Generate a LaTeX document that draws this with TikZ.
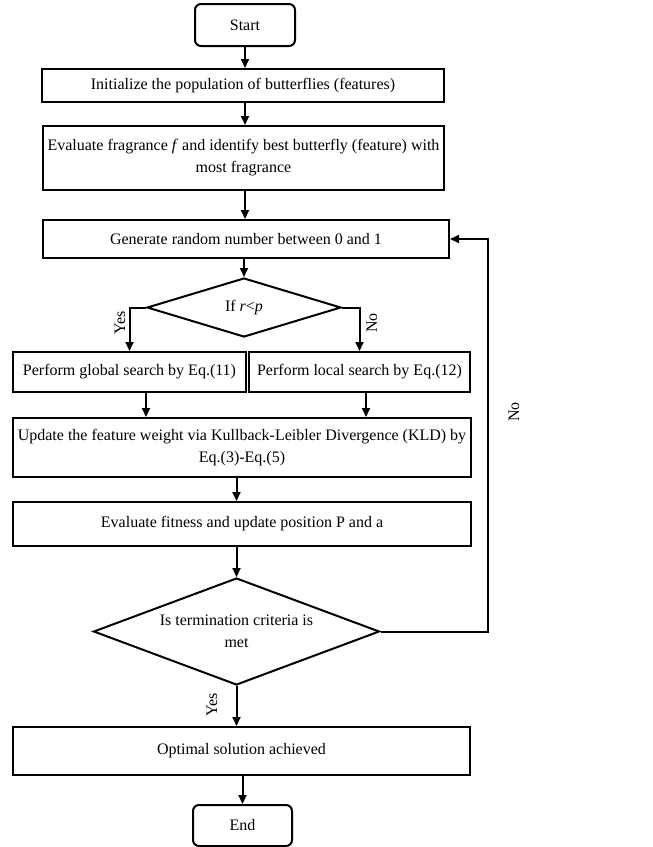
\documentclass[tikz,border=0pt]{standalone}
\usepackage{fontspec}
\setmainfont{Liberation Serif}
\usetikzlibrary{shapes.geometric,arrows.meta}
\begin{document}
\begin{tikzpicture}[x=1pt,y=-1pt,
  every node/.style={font=\fontsize{16}{22}\selectfont},
  procbox/.style={draw,line width=2pt,rectangle,inner sep=0pt,align=center},
  termbox/.style={draw,line width=2pt,rectangle,rounded corners=6pt,inner sep=0pt},
  decbox/.style={draw,line width=2pt,diamond,inner sep=0pt,align=center},
  flow/.style={line width=2pt,-{Triangle[width=8pt,length=9pt]}},
  lbl/.style={rotate=90,inner sep=0pt}]
\useasboundingbox (0,0) rectangle (653,847);

\node[termbox,minimum width=100pt,minimum height=42pt] (start) at (245,25) {Start};
\node[procbox,minimum width=402pt,minimum height=33pt] (init) at (243,85.5) {Initialize the population of butterflies (features)};
\node[procbox,minimum width=401pt,minimum height=64pt] (eval) at (243.5,158) {Evaluate fragrance \textit{f} and identify best butterfly (feature) with\\most fragrance};
\node[procbox,minimum width=406pt,minimum height=38pt] (gen) at (246,239) {Generate random number between 0 and 1};
\node[decbox,minimum width=194pt,minimum height=59pt,aspect=3.3] (dec1) at (244,307.5) {If \textit{r}<\textit{p}};
\node[procbox,minimum width=233pt,minimum height=40pt] (glob) at (129.5,372) {Perform global search by Eq.(11)};
\node[procbox,minimum width=221pt,minimum height=40pt] (loc) at (359.5,372) {Perform local search by Eq.(12)};
\node[procbox,minimum width=458pt,minimum height=59pt] (upd) at (242,447.5) {Update the feature weight via Kullback-Leibler Divergence (KLD) by\\Eq.(3)-Eq.(5)};
\node[procbox,minimum width=458pt,minimum height=44pt] (fit) at (242,524) {Evaluate fitness and update position P and a};
\node[decbox,minimum width=286pt,minimum height=107pt,aspect=2.65] (dec2) at (236.5,631.5) {Is termination criteria is\\met};
\node[procbox,minimum width=457pt,minimum height=48pt] (opt) at (241.5,751) {Optimal solution achieved};
\node[termbox,minimum width=99pt,minimum height=41pt] (end) at (242.5,825.5) {End};

\coordinate (loop) at (488,631.5);

\draw[flow] (start.south) -- (start.south |- init.north);
\draw[flow] (init.south -| start.south) -- (start.south |- eval.north);
\draw[flow] (eval.south -| start.south) -- (start.south |- gen.north);
\draw[flow] (gen.south -| dec1.north) -- (dec1.north);
\draw[flow] (dec1.west) -| (glob.north);
\draw[flow] (dec1.east) -| (loc.north);
\draw[flow] (glob.south -| dec1.west) -- (dec1.west |- upd.north);
\draw[flow] ([xshift=6.5pt]loc.south) -- ([xshift=6.5pt]loc.south |- upd.north);
\draw[flow] (upd.south -| dec2.north) -- (fit.north -| dec2.north);
\draw[flow] (fit.south -| dec2.north) -- (dec2.north);
\draw[flow] (dec2.south) -- (dec2.south |- opt.north);
\draw[flow] (opt.south -| end.north) -- (end.north);
\draw[flow] (dec2.east) -- (loop) |- (gen.east);

\node[lbl] (yes1) at (120,323) {Yes};
\node[lbl] (no1) at (372,323) {No};
\node[lbl] (no2) at (514,412) {No};
\node[lbl] (yes2) at (212,705) {Yes};
\end{tikzpicture}
\end{document}
